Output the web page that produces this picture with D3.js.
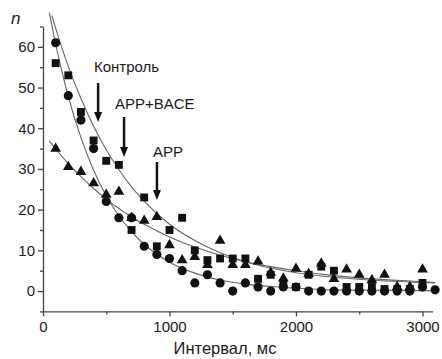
<!DOCTYPE html>
<html>
<head>
<meta charset="utf-8">
<script src="https://cdn.jsdelivr.net/npm/d3@7"></script>
<style>
  body { margin: 0; background: #fff; }
  text { font-family: "Liberation Sans", Arial, sans-serif; fill: #1a1a1a; }
</style>
</head>
<body>
<div id="chart"></div>
<script>
// interval values (ms) where the points sit
const times = [100, 200, 300, 400, 500, 600, 700, 800, 900, 1000,
  1100, 1200, 1300, 1400, 1500, 1600, 1700, 1800, 1900, 2000,
  2100, 2200, 2300, 2400, 2500, 2600, 2700, 2800, 2900, 3000, 3100];

// Контроль (circles)
const control = [61, 48, 42, 35, 22, 18, 18, 11, 9, 8,
  5, 2, 4, 2, 0, 2, 1, 0, 1, 1,
  0, 0, 0, 0, 0, 0, 0, 0, 0, 1, 0.3];

// APP+BACE (squares)
const appBace = [56, 53, 44, 37, 32, 31, 15, 23, 11, 15,
  18, 10, 7.6, 8, 8, 8, 3, 4, 2, 1,
  4, 6, 5, 1, 1, 1, 0.5, 0.5, 0.5, 2, null];

// APP (triangles)
const app = [35, 30.5, 29.3, 26.5, 23.7, 24.4, 18, 17.3, 18.2, 11.3,
  7.6, 8.4, 6.4, 12.4, 6.4, 6.4, 7.3, 4.5, 3.1, 5.5,
  4.2, 6.8, 3, 5.3, 4, 2.7, 4, 1, 1, 5.3, null];

// fitted curves as [ms, n]
const fitControl = [[50, 68.4], [100, 60.7], [150, 53.9], [200, 47.8], [300, 37.7], [400, 29.7],
  [500, 23.4], [600, 18.5], [700, 14.6], [800, 11.5], [1000, 7.1], [1200, 4.4], [1400, 2.7],
  [1600, 1.7], [1800, 1.1], [2000, 0.7], [2300, 0.3], [2600, 0.2], [3000, 0.1], [3100, 0.05]];
const fitAppBace = [[70, 67.7], [100, 64.6], [150, 59.7], [200, 55.2], [300, 47.3], [400, 40.5],
  [500, 34.7], [600, 29.8], [700, 25.6], [800, 22.1], [1000, 16.4], [1200, 12.4], [1400, 9.4],
  [1600, 7.2], [1800, 5.65], [2000, 4.5], [2300, 3.4], [2600, 2.65], [3000, 2.1], [3100, 2.0]];
const fitApp = [[50, 36.9], [100, 34.9], [200, 31.3], [300, 28.1], [400, 25.2], [500, 22.6],
  [600, 20.3], [700, 18.2], [800, 16.4], [1000, 13.3], [1200, 10.8], [1400, 8.8], [1600, 7.2],
  [1800, 6.0], [2000, 5.0], [2300, 3.8], [2600, 3.0], [3000, 2.3], [3100, 2.1]];

// arrow labels: text and the interval each arrow points at
const labels = ["Контроль", "APP+BACE", "APP"];
const arrowAt = [420, 625, 885];

const xTicks = [0, 1000, 2000, 3000];
const yTicks = [0, 10, 20, 30, 40, 50, 60];

const width = 442, height = 359;

const svg = d3.select("#chart").append("svg")
  .attr("width", width)
  .attr("height", height);

const x = d3.scaleLinear().domain([0, 3080]).range([43, 432.6]);
const y = d3.scaleLinear().domain([-5, 65]).range([311.4, 26.5]);

// axes
svg.append("g")
  .attr("transform", `translate(0,${y(-5)})`)
  .call(d3.axisBottom(x).tickValues(xTicks).tickFormat(d3.format("d"))
    .tickSize(5).tickPadding(5).tickSizeOuter(0));
svg.append("g")
  .attr("transform", `translate(0,${y(-5)})`)
  .call(d3.axisBottom(x).tickValues([500, 1500, 2500]).tickSize(3).tickFormat("").tickSizeOuter(0))
  .select(".domain").remove();

svg.append("g")
  .attr("transform", `translate(${x(0)},0)`)
  .call(d3.axisLeft(y).tickValues(yTicks).tickSize(5).tickPadding(3).tickSizeOuter(0));
svg.append("g")
  .attr("transform", `translate(${x(0)},0)`)
  .call(d3.axisLeft(y).tickValues([-5, 5, 15, 25, 35, 45, 55, 65]).tickSize(3).tickFormat("").tickSizeOuter(0))
  .select(".domain").remove();

svg.selectAll(".domain, .tick line").attr("stroke", "#444").attr("stroke-width", 1.3);
svg.selectAll(".tick text")
  .style("font-size", "15px")
  .style("font-family", "'Liberation Sans', Arial, sans-serif")
  .attr("fill", "#2a2a2a");

// axis titles
svg.append("text")
  .attr("x", 225).attr("y", 354)
  .attr("text-anchor", "middle")
  .style("font-size", "16.5px")
  .text("Интервал, мс");
svg.append("text")
  .attr("x", 11).attr("y", 24)
  .style("font-size", "17px")
  .style("font-style", "italic")
  .text("n");

// fit curves
const line = d3.line()
  .x(d => x(d[0]))
  .y(d => y(d[1]))
  .curve(d3.curveMonotoneX);

[fitControl, fitAppBace, fitApp].forEach(f => {
  svg.append("path")
    .datum(f)
    .attr("d", line)
    .attr("fill", "none")
    .attr("stroke", "#666")
    .attr("stroke-width", 1.1);
});

// points
const series = [
  { values: control, type: d3.symbolCircle, size: 66 },
  { values: appBace, type: d3.symbolSquare, size: 62 },
  { values: app, type: d3.symbolTriangle, size: 50 }
];

series.forEach(s => {
  const pts = times.map((t, i) => [t, s.values[i]]).filter(d => d[1] != null);
  svg.append("g").selectAll("path")
    .data(pts)
    .join("path")
    .attr("transform", d => `translate(${x(d[0])},${y(d[1])})`)
    .attr("d", d3.symbol().type(s.type).size(s.size))
    .attr("fill", "#111");
});

// arrows with labels
const labelX = [94, 115, 153];
const labelY = [72, 109, 157];
const arrowTop = [83, 117, 162];
const arrowTip = [122, 157, 200];

labels.forEach((lab, i) => {
  svg.append("text")
    .attr("x", labelX[i]).attr("y", labelY[i])
    .style("font-size", "15px")
    .text(lab);
  const ax = x(arrowAt[i]) + 2;
  svg.append("line")
    .attr("x1", ax).attr("x2", ax)
    .attr("y1", arrowTop[i]).attr("y2", arrowTip[i] - 8)
    .attr("stroke", "#111").attr("stroke-width", 2.5);
  svg.append("path")
    .attr("d", `M${ax - 4},${arrowTip[i] - 10}L${ax + 4},${arrowTip[i] - 10}L${ax},${arrowTip[i]}Z`)
    .attr("fill", "#111");
});
</script>
</body>
</html>
